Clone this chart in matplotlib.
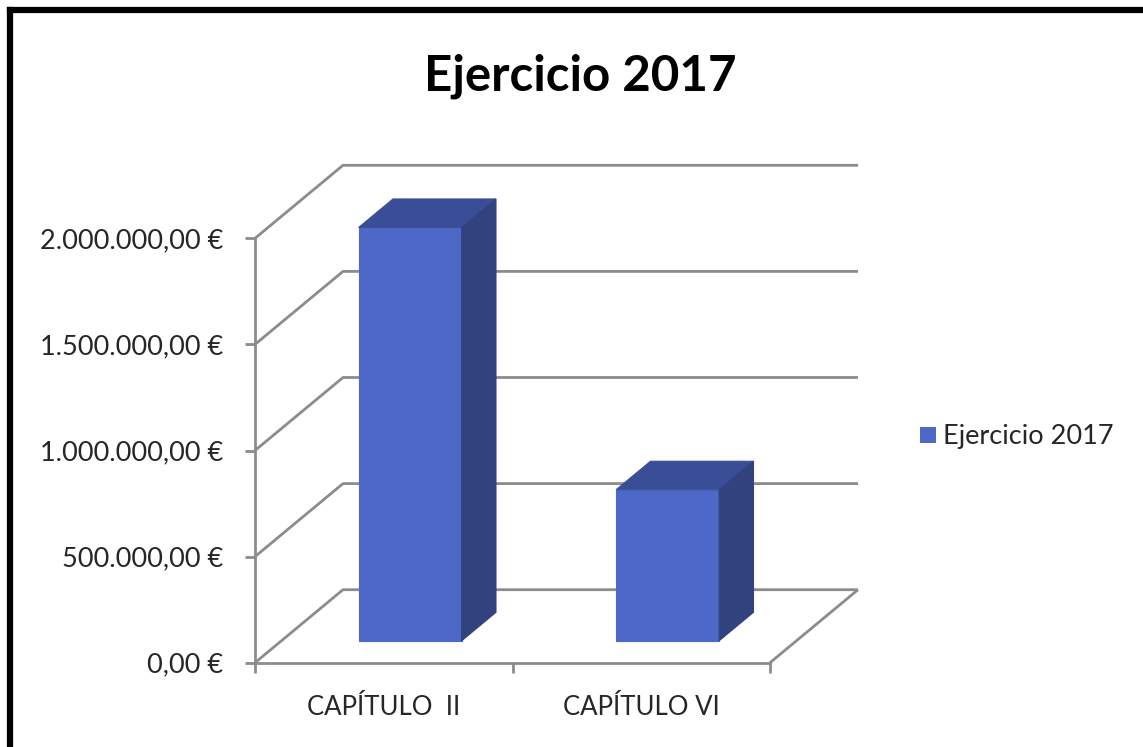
import matplotlib
matplotlib.use("Agg")
import matplotlib.pyplot as plt
from matplotlib.patches import Polygon, Rectangle
from matplotlib.lines import Line2D
from matplotlib.transforms import IdentityTransform
from matplotlib.ticker import FuncFormatter
import numpy as np

# ---- data ----
categories = ["CAPÍTULO  II", "CAPÍTULO VI"]
values = [1948000, 712000]
series_name = "Ejercicio 2017"
title = "Ejercicio 2017"
y_ticks = [0, 500000, 1000000, 1500000, 2000000]

# ---- style ----
W, H, DPI = 1143, 747, 100
DX, DY = 88, 73          # depth offset of back wall, display pixels
Z0, Z1 = 0.30, 0.69      # bar depth range (fraction of full depth)
BAR_W = 0.40
GRID = "#8c8c8c"
FRONT = "#4D68C7"
TOP = "#3A4E98"
SIDE = "#31427F"
TXT = "#262626"
FONT = "Lato"

fig = plt.figure(figsize=(W / DPI, H / DPI), dpi=DPI)
fig.patch.set_facecolor("white")

# front plane of the 3D plot
ax = fig.add_axes([255 / W, (H - 662.7) / H, 515 / W, (662.7 - 238.3) / H])
ax.set_xlim(-0.5, len(categories) - 0.5)
ax.set_ylim(0, 2000000)
ax.patch.set_visible(False)
for s in ["top", "right"]:
    ax.spines[s].set_visible(False)
for s in ["left", "bottom"]:
    ax.spines[s].set_color(GRID)
    ax.spines[s].set_linewidth(2)

def fmt(v, pos):
    s = f"{v:,.2f}".replace(",", "X").replace(".", ",").replace("X", ".")
    return s + " €"

ax.set_yticks(y_ticks)
ax.yaxis.set_major_formatter(FuncFormatter(fmt))
ax.tick_params(axis="y", length=7, width=2, color=GRID, pad=16,
               labelsize=19.5, labelcolor=TXT)
ax.set_xticks(np.arange(len(categories) + 1) - 0.5)
ax.set_xticklabels([])
ax.set_xticks(np.arange(len(categories)), minor=True)
ax.set_xticklabels(categories, minor=True)
ax.tick_params(axis="x", which="major", length=7, width=2, color=GRID)
ax.tick_params(axis="x", which="minor", length=0, pad=23,
               labelsize=18.5, labelcolor=TXT)
for lab in ax.get_yticklabels() + ax.get_xticklabels(minor=True):
    lab.set_fontfamily(FONT)

fig.canvas.draw()

def P(x, y, z):
    px, py = ax.transData.transform((x, y))
    return (px + z * DX, py + z * DY)

def add_poly(pts, fc, z=2):
    ax.add_patch(Polygon(pts, closed=True, facecolor=fc, edgecolor=fc,
                         linewidth=0.8, transform=IdentityTransform(),
                         clip_on=False, zorder=z))

def add_line(pts, z=1):
    xs, ys = zip(*pts)
    ax.add_line(Line2D(xs, ys, color=GRID, linewidth=2,
                       transform=IdentityTransform(), clip_on=False,
                       zorder=z, solid_capstyle="butt"))

x_lo, x_hi = -0.5, len(categories) - 0.5
# back wall + left wall gridlines
for t in y_ticks:
    add_line([P(x_lo, t, 0), P(x_lo, t, 1), P(x_hi, t, 1)])
# floor right edge
add_line([P(x_hi, 0, 1), P(x_hi, 0, 0)])

# bars
for i, v in enumerate(values):
    x0, x1 = i - BAR_W / 2, i + BAR_W / 2
    add_poly([P(x0, 0, Z0), P(x1, 0, Z0), P(x1, v, Z0), P(x0, v, Z0)], FRONT, 3)
    add_poly([P(x0, v, Z0), P(x1, v, Z0), P(x1, v, Z1), P(x0, v, Z1)], TOP, 3)
    add_poly([P(x1, 0, Z0), P(x1, 0, Z1), P(x1, v, Z1), P(x1, v, Z0)], SIDE, 3)

# title
fig.text(580 / W, 1 - 76 / H, title, ha="center", va="center",
         fontsize=35.5, fontweight="bold", fontfamily=FONT, color="black")

# legend
fig.patches.append(Rectangle(
    (920 / W, 1 - 443 / H), 16 / W, 16 / H, transform=fig.transFigure,
    facecolor=FRONT, edgecolor="none"))
fig.text(943 / W, 1 - 436 / H, series_name, ha="left", va="center",
         fontsize=19.5, fontfamily=FONT, color=TXT)

# outer frame (black, cut at right and bottom)
fig.add_artist(Line2D([10 / W, 10 / W], [0, 1 - 10 / H], color="black",
                      linewidth=4.5, transform=fig.transFigure,
                      solid_capstyle="projecting"))
fig.add_artist(Line2D([10 / W, 1], [1 - 10 / H, 1 - 10 / H], color="black",
                      linewidth=4.5, transform=fig.transFigure,
                      solid_capstyle="projecting"))

fig.savefig("out.png", dpi=DPI)
